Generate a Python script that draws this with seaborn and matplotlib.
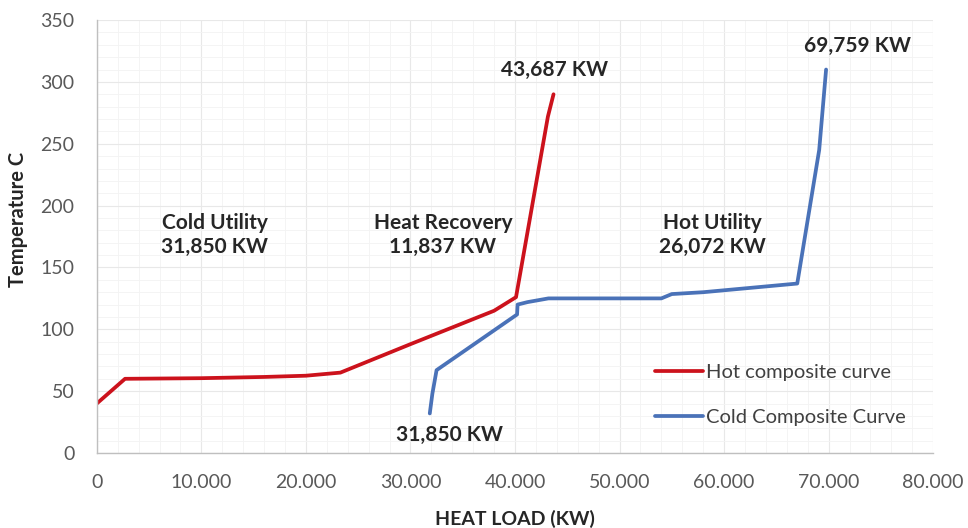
import matplotlib
matplotlib.use("Agg")
import matplotlib.pyplot as plt
import seaborn as sns
import pandas as pd
from matplotlib.ticker import FuncFormatter, MultipleLocator

# hot composite curve (heat load KW, temperature C)
hot_load = [0, 2700, 10000, 16000, 20000, 23300, 30000, 38000, 40100, 43150, 43687]
hot_temp = [40, 60, 60.5, 61.5, 62.5, 65, 88, 115, 126, 272, 290]

# cold composite curve
cold_load = [31850, 32100, 32500, 40200, 40250, 41200, 43200, 54000, 55000, 58000, 67000, 69100, 69759]
cold_temp = [32, 48, 67, 112, 120, 122, 125, 125, 128.5, 130, 137, 245, 310]

x_ticks = [0, 10000, 20000, 30000, 40000, 50000, 60000, 70000, 80000]
y_ticks = [0, 50, 100, 150, 200, 250, 300, 350]

hot_name = "Hot composite curve"
cold_name = "Cold Composite Curve"

df = pd.concat([
    pd.DataFrame({"load": hot_load, "temp": hot_temp, "curve": hot_name}),
    pd.DataFrame({"load": cold_load, "temp": cold_temp, "curve": cold_name}),
])

sns.set_theme(style="white")
plt.rcParams['font.family'] = ['Lato', 'DejaVu Sans']

fig = plt.figure(figsize=(9.68, 5.28), dpi=100)
ax = fig.add_axes([0.100, 0.142, 0.864, 0.820])

sns.lineplot(data=df, x="load", y="temp", hue="curve", sort=False, estimator=None,
             palette={hot_name: "#CC121C", cold_name: "#4A72B8"}, linewidth=2.7, ax=ax)

ax.set_xlim(0, 80000)
ax.set_ylim(0, 350)
ax.set_xticks(x_ticks)
ax.set_yticks(y_ticks)
ax.xaxis.set_major_formatter(FuncFormatter(lambda v, p: "0" if v == 0 else f"{int(v):,}".replace(",", ".")))
ax.xaxis.set_minor_locator(MultipleLocator(2000))
ax.yaxis.set_minor_locator(MultipleLocator(10))
ax.grid(which="major", color="#E8E8E8", linewidth=0.8)
ax.grid(which="minor", color="#F3F3F3", linewidth=0.6)
ax.tick_params(axis="both", which="both", length=0, labelsize=14, colors="#595959")
ax.tick_params(axis="x", pad=15)
ax.tick_params(axis="y", pad=16)

for s in ["top", "right"]:
    ax.spines[s].set_visible(False)
for s in ["left", "bottom"]:
    ax.spines[s].set_color("#BFBFBF")
    ax.spines[s].set_linewidth(1.0)

ax.set_xlabel("HEAT LOAD (KW)", fontsize=14, fontweight="bold", color="#262626", labelpad=14)
ax.set_ylabel("Temperature C", fontsize=14.5, fontweight="bold", color="#262626")
ax.yaxis.set_label_coords(-0.082, 0.54)

tk = dict(ha="center", va="center", fontsize=15, fontweight="bold", color="#262626", linespacing=1.25)
ax.text(11300, 176, "Cold Utility\n31,850 KW", **tk)
ax.text(33100, 176, "Heat Recovery\n11,837 KW", **tk)
ax.text(58900, 176, "Hot Utility\n26,072 KW", **tk)
ax.text(43800, 310, "43,687 KW", **tk)
ax.text(72800, 329, "69,759 KW", **tk)
ax.text(33700, 14.5, "31,850 KW", **tk)

leg = ax.legend(loc="upper left", bbox_to_anchor=(0.646, 0.248), frameon=False, fontsize=14.5,
                handlelength=2.35, handletextpad=0.15, labelspacing=1.4, title=None)
for t in leg.get_texts():
    t.set_color("#404040")

fig.savefig("out.png", dpi=100, facecolor="white")
